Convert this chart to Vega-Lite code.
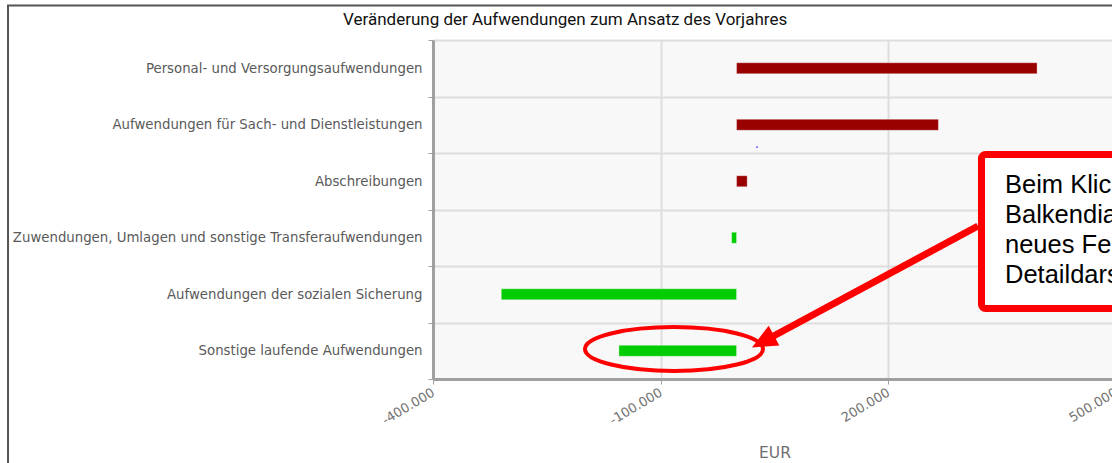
{
  "$schema": "https://vega.github.io/schema/vega-lite/v6.json",
  "autosize": {"type": "none"},
  "padding": {"left": 433, "top": 40, "right": 0, "bottom": 84},
  "width": 679,
  "height": 339,
  "background": "white",
  "config": {
    "locale": {"number": {"decimal": ",", "thousands": ".", "grouping": [3], "currency": ["", " €"], "minus": "-"}},
    "view": {"fill": "#f8f8f8", "stroke": "#c8c8c8", "strokeWidth": 1}
  },
  "title": {
    "text": "Veränderung der Aufwendungen zum Ansatz des Vorjahres",
    "anchor": "start", "frame": "group", "dx": -90, "offset": -25,
    "font": "Roboto", "fontSize": 17, "fontWeight": "normal", "color": "#111111"
  },
  "datasets": {
    "bars": [
      {"category": "Personal- und Versorgungsaufwendungen", "value": 396000},
      {"category": "Aufwendungen für Sach- und Dienstleistungen", "value": 266000},
      {"category": "Abschreibungen", "value": 14000},
      {"category": "Zuwendungen, Umlagen und sonstige Transferaufwendungen", "value": -6500},
      {"category": "Aufwendungen der sozialen Sicherung", "value": -310000},
      {"category": "Sonstige laufende Aufwendungen", "value": -155000}
    ],
    "notes": [
      {"kind": "frame", "value": -960000, "value2": 742400, "row": 6.611, "row2": -1.788},
      {"kind": "box", "value": 322750, "value2": 742400, "row": 3.973, "row2": 1.248},
      {"kind": "arrow", "value": 318150, "value2": 41430, "row": 2.708, "row2": 0.708},
      {"kind": "head", "value": 34840, "row": 0.664},
      {"kind": "ellipse", "value": -82440, "row": 0.531},
      {"kind": "dot", "value": 26930, "row": 4.106},
      {"kind": "text", "value": 353720, "row": 3.292, "label": "Beim Klick"},
      {"kind": "text", "value": 353720, "row": 2.761, "label": "Balkendiagramm"},
      {"kind": "text", "value": 353720, "row": 2.23, "label": "neues Fenster"},
      {"kind": "text", "value": 353720, "row": 1.699, "label": "Detaildarstellung"}
    ]
  },
  "resolve": {"scale": {"y": "independent"}},
  "encoding": {
    "x": {
      "field": "value", "type": "quantitative",
      "scale": {"domain": [-400000, 500000], "range": [0, 683], "nice": false},
      "axis": {
        "title": "EUR", "values": [-400000, -100000, 200000, 500000], "format": ",d",
        "grid": true, "gridColor": "#dddddd", "gridWidth": 2,
        "domainColor": "#a0a0a0", "domainWidth": 3, "tickColor": "#a0a0a0", "tickSize": 5,
        "labelAngle": -31, "labelAlign": "right", "labelBaseline": "middle", "labelPadding": 7,
        "labelFont": "DejaVu Sans", "labelFontSize": 13, "labelColor": "#707070",
        "titleFont": "DejaVu Sans", "titleFontSize": 15.5, "titleFontWeight": "normal", "titleColor": "#707070", "titlePadding": 18
      }
    }
  },
  "layer": [
    {
      "data": {"name": "bars"},
      "mark": {"type": "bar", "size": 11, "strokeWidth": 1, "strokeOpacity": 0.35, "stroke": "white"},
      "encoding": {
        "y": {
          "field": "category", "type": "nominal", "sort": null,
          "scale": {"paddingInner": 0, "paddingOuter": 0},
          "axis": {
            "title": null, "tickBand": "extent", "grid": true, "gridColor": "#dddddd", "gridWidth": 2,
            "domainColor": "#a0a0a0", "domainWidth": 3, "tickColor": "#a0a0a0", "tickSize": 5, "tickWidth": 1,
            "labelFont": "DejaVu Sans", "labelFontSize": 13.3, "labelColor": "#5a5a5a", "labelPadding": 6, "labelLimit": 600
          }
        },
        "x2": {"datum": 0},
        "color": {"condition": {"test": "datum.value < 0", "value": "#00cc00"}, "value": "#990000"}
      }
    },
    {
      "data": {"name": "notes"},
      "encoding": {
        "y": {"field": "row", "type": "quantitative", "axis": null, "scale": {"domain": [0, 6], "nice": false, "zero": false}}
      },
      "layer": [
        {
          "transform": [{"filter": "datum.kind === 'frame'"}],
          "mark": {"type": "rect", "filled": false, "stroke": "#555555", "strokeWidth": 2},
          "encoding": {"x2": {"field": "value2"}, "y2": {"field": "row2"}}
        },
        {
          "transform": [{"filter": "datum.kind === 'arrow'"}],
          "mark": {"type": "rule", "color": "#ff0000", "strokeWidth": 7},
          "encoding": {"x2": {"field": "value2"}, "y2": {"field": "row2"}}
        },
        {
          "transform": [{"filter": "datum.kind === 'box'"}],
          "mark": {"type": "rect", "fill": "white", "stroke": "#ff0000", "strokeWidth": 7, "cornerRadius": 4},
          "encoding": {"x2": {"field": "value2"}, "y2": {"field": "row2"}}
        },
        {
          "transform": [{"filter": "datum.kind === 'head'"}],
          "mark": {"type": "point", "shape": "M0,-1 L0.9,1 L-0.9,1 Z", "filled": true, "color": "#ff0000", "opacity": 1, "size": 625, "angle": 241.8},
          "encoding": {}
        },
        {
          "transform": [{"filter": "datum.kind === 'ellipse'"}],
          "mark": {"type": "point", "shape": "M-1,0 A1,0.247 0 1,0 1,0 A1,0.247 0 1,0 -1,0 Z", "filled": false, "color": "#ff0000", "opacity": 1, "strokeWidth": 4, "size": 31684},
          "encoding": {}
        },
        {
          "transform": [{"filter": "datum.kind === 'dot'"}],
          "mark": {"type": "point", "filled": true, "color": "#3333ff", "size": 3, "opacity": 1},
          "encoding": {}
        },
        {
          "transform": [{"filter": "datum.kind === 'text'"}],
          "mark": {"type": "text", "align": "left", "baseline": "alphabetic", "font": "Liberation Sans", "fontSize": 25.5, "color": "#000000"},
          "encoding": {"text": {"field": "label"}}
        }
      ]
    }
  ]
}
